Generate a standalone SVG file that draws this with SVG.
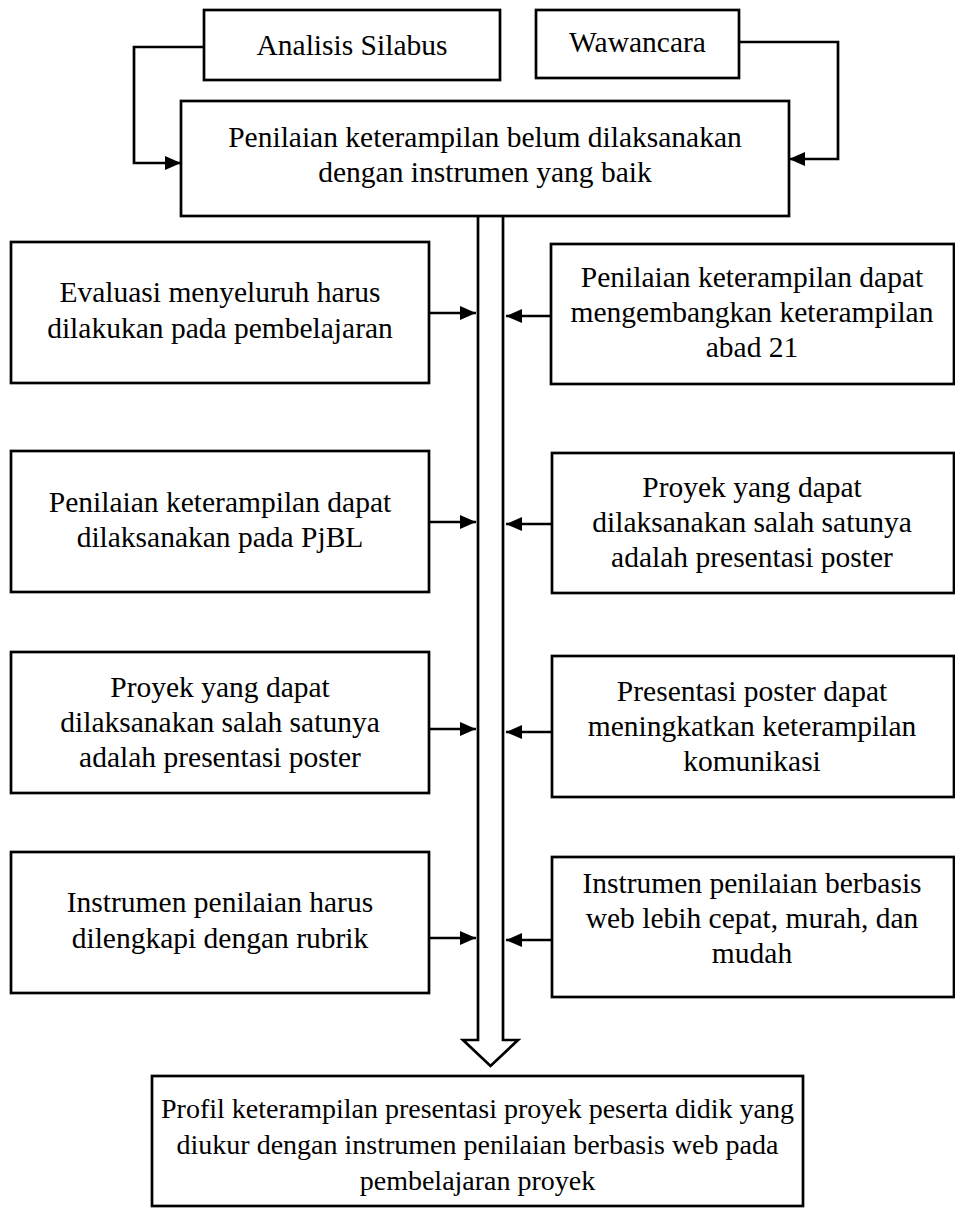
<svg xmlns="http://www.w3.org/2000/svg" width="955" height="1214" viewBox="0 0 955 1214">
<style>
.box{fill:#fff;stroke:#000;stroke-width:2.7}
.t{font-family:"Liberation Serif","Times New Roman",serif;font-size:29.5px;fill:#000;text-anchor:middle}
.t2{font-family:"Liberation Serif","Times New Roman",serif;font-size:28px;fill:#000;text-anchor:middle}
.c{fill:none;stroke:#000;stroke-width:2.7}
</style>
<defs>
<marker id="ah" viewBox="0 0 10 10" refX="10" refY="5" markerUnits="userSpaceOnUse" markerWidth="16" markerHeight="14" orient="auto" preserveAspectRatio="none">
<path d="M0,0 L10,5 L0,10 z" fill="#000"/>
</marker>
</defs>
<rect width="955" height="1214" fill="#fff"/>
<g id="connectors">
<path class="c" d="M204,47 H134 V163 H181" marker-end="url(#ah)"/>
<path class="c" d="M739,42 H838 V159 H789" marker-end="url(#ah)"/>
<path class="c" d="M478,216 V1040 H463 L490.5,1066 L518,1040 H503 V216"/>
<path class="c" d="M429,313 H476" marker-end="url(#ah)"/>
<path class="c" d="M552,316 H506" marker-end="url(#ah)"/>
<path class="c" d="M429,522 H476" marker-end="url(#ah)"/>
<path class="c" d="M552,524 H506" marker-end="url(#ah)"/>
<path class="c" d="M429,729 H476" marker-end="url(#ah)"/>
<path class="c" d="M552,732 H506" marker-end="url(#ah)"/>
<path class="c" d="M429,938 H476" marker-end="url(#ah)"/>
<path class="c" d="M552,940 H506" marker-end="url(#ah)"/>
</g>
<g id="analisis">
<rect class="box" x="204" y="10" width="296" height="70"/>
<text class="t" x="352" y="55">Analisis Silabus</text>
</g>
<g id="wawancara">
<rect class="box" x="536" y="10" width="203" height="68"/>
<text class="t" x="637.5" y="52">Wawancara</text>
</g>
<g id="main">
<rect class="box" x="181" y="101" width="608" height="115"/>
<text class="t" x="485" y="147">Penilaian keterampilan belum dilaksanakan</text>
<text class="t" x="485" y="182">dengan instrumen yang baik</text>
</g>
<g id="l1">
<rect class="box" x="11" y="242" width="418" height="141"/>
<text class="t" x="220" y="302">Evaluasi menyeluruh harus</text>
<text class="t" x="220" y="338">dilakukan pada pembelajaran</text>
</g>
<g id="r1">
<rect class="box" x="551" y="244" width="403" height="140"/>
<text class="t" x="752" y="287">Penilaian keterampilan dapat</text>
<text class="t" x="752" y="322">mengembangkan keterampilan</text>
<text class="t" x="752" y="357">abad 21</text>
</g>
<g id="l2">
<rect class="box" x="11" y="451" width="418" height="141"/>
<text class="t" x="220" y="512">Penilaian keterampilan dapat</text>
<text class="t" x="220" y="547">dilaksanakan pada PjBL</text>
</g>
<g id="r2">
<rect class="box" x="552" y="453" width="402" height="140"/>
<text class="t" x="752" y="497">Proyek yang dapat</text>
<text class="t" x="752" y="532">dilaksanakan salah satunya</text>
<text class="t" x="752" y="567">adalah presentasi poster</text>
</g>
<g id="l3">
<rect class="box" x="11" y="652" width="418" height="141"/>
<text class="t" x="220" y="697">Proyek yang dapat</text>
<text class="t" x="220" y="732">dilaksanakan salah satunya</text>
<text class="t" x="220" y="767">adalah presentasi poster</text>
</g>
<g id="r3">
<rect class="box" x="552" y="656" width="402" height="141"/>
<text class="t" x="752" y="701">Presentasi poster dapat</text>
<text class="t" x="752" y="736">meningkatkan keterampilan</text>
<text class="t" x="752" y="771">komunikasi</text>
</g>
<g id="l4">
<rect class="box" x="11" y="852" width="418" height="141"/>
<text class="t" x="220" y="912">Instrumen penilaian harus</text>
<text class="t" x="220" y="948">dilengkapi dengan rubrik</text>
</g>
<g id="r4">
<rect class="box" x="552" y="857" width="402" height="140"/>
<text class="t" x="752" y="893">Instrumen penilaian berbasis</text>
<text class="t" x="752" y="928">web lebih cepat, murah, dan</text>
<text class="t" x="752" y="963">mudah</text>
</g>
<g id="final">
<rect class="box" x="152" y="1076" width="651" height="130"/>
<text class="t2" x="477.5" y="1118">Profil keterampilan presentasi proyek peserta didik yang</text>
<text class="t2" x="477.5" y="1154">diukur dengan instrumen penilaian berbasis web pada</text>
<text class="t2" x="477.5" y="1190">pembelajaran proyek</text>
</g>
</svg>
